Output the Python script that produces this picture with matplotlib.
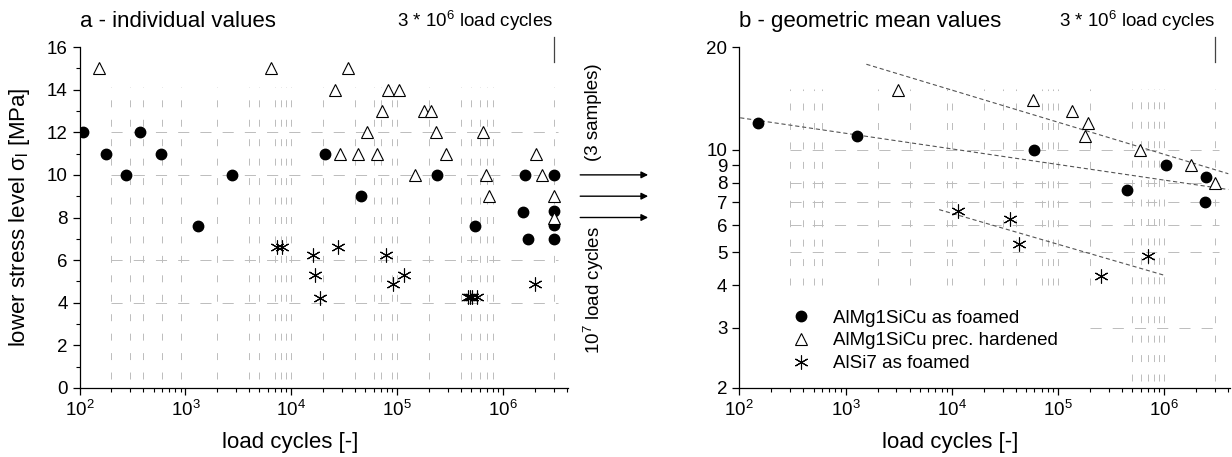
"""Fatigue data of Al foams: individual values (a) and geometric means (b)."""
import numpy as np
import matplotlib
matplotlib.use("Agg")
import matplotlib.pyplot as plt
from matplotlib.ticker import MultipleLocator, FixedLocator, NullLocator, FixedFormatter

plt.rcParams["font.family"] = ["Liberation Sans", "DejaVu Sans"]
plt.rcParams["mathtext.fontset"] = "custom"
plt.rcParams["mathtext.rm"] = "Liberation Sans"
plt.rcParams["mathtext.it"] = "Liberation Sans:italic"
plt.rcParams["lines.scale_dashes"] = False

# ---- panel a: individual values ----
foamed_a_n = [108, 178, 274, 376, 583, 1320, 2740, 21000, 45200, 240000, 543000,
              1.6e6, 1.54e6, 1.71e6, 3e6, 3e6, 3e6, 3e6]
foamed_a_s = [12, 11, 10, 12, 11, 7.62, 10, 11, 9, 10, 7.62,
              10, 8.27, 7.0, 10, 8.3, 7.63, 7.0]

hard_a_n = [152, 6370, 34000, 25900, 82600, 103000, 72600, 181000, 209000,
            51400, 230000, 640000, 28900, 42600, 64400, 288000, 2.06e6,
            146000, 686000, 2.32e6, 735000, 3e6, 3e6]
hard_a_s = [15, 15, 15, 14, 14, 14, 13, 13, 13,
            12, 12, 12, 11, 11, 11, 11, 11,
            10, 10, 10, 9, 9, 8]

alsi_a_n = [7310, 8100, 16100, 16800, 18500, 27900, 78300, 90800, 115000,
            470000, 490000, 510000, 570000, 2.0e6]
alsi_a_s = [6.6, 6.6, 6.22, 5.28, 4.2, 6.6, 6.22, 4.87, 5.28,
            4.27, 4.27, 4.27, 4.27, 4.87]

# ---- panel b: geometric mean values ----
foamed_b_n = [149, 1280, 59700, 442000, 1.04e6, 2.46e6, 2.4e6]
foamed_b_s = [12.0, 11.0, 10.0, 7.64, 9.0, 8.32, 7.0]
hard_b_n = [3120, 58600, 135000, 190000, 180000, 588000, 1.8e6, 3e6]
hard_b_s = [15, 14, 13, 12, 11, 10, 9, 8]
alsi_b_n = [11500, 35100, 43000, 253000, 703000]
alsi_b_s = [6.6, 6.25, 5.28, 4.27, 4.89]

# fitted lines in b (end points)
fit_foamed_n = [102, 4.0e6]
fit_foamed_s = [12.4, 7.64]
fit_hard_n = [1570, 4.0e6]
fit_hard_s = [17.8, 8.5]
fit_alsi_n = [7600, 1.03e6]
fit_alsi_s = [6.67, 4.27]

# background dashed grid positions
grid_x_a = [200, 300, 400, 600, 900, 2000, 4000, 5000, 7000, 8000, 9000, 1e4,
            2e4, 4e4, 6e4, 7e4, 9e4, 1e5, 2e5, 4e5, 5e5, 6e5, 7e5, 8e5, 3e6]
grid_y_a = [4, 6, 10, 12]
grid_x_b = [300, 400, 500, 600, 2000, 4000, 9000, 1e4, 2e4, 3e4, 4e4,
            7e4, 8e4, 9e4, 1e5, 2e5]
grid_x_b_long = [5e5, 6e5, 7e5, 8e5, 9e5, 1e6, 3e6]
grid_y_b = [5, 6, 7, 8, 10]

W, H = 1232, 457
fig = plt.figure(figsize=(W / 100, H / 100), dpi=100)
bot, top = 388, 47
axa = fig.add_axes([79.5 / W, (H - bot) / H, (568 - 79.5) / W, (bot - top) / H])
axb = fig.add_axes([739.3 / W, (H - bot) / H, (1230 - 739.3) / W, (bot - top) / H])

grid_kw = dict(color="#bcbcbc", lw=0.7, linestyles=(0, (5, 9)), zorder=0)
gridh_kw = dict(color="#bcbcbc", lw=0.7, linestyles=(0, (8, 8)), zorder=0)
circ_kw = dict(ls="none", marker="o", ms=7.5, mfc="black", mec="black", zorder=3)
tri_kw = dict(ls="none", marker="^", ms=8, mfc="white", mec="black", mew=0.8, zorder=3)
ast_kw = dict(ls="none", marker=(6, 2, 0), ms=10, mec="black", mew=0.8, zorder=3)

# ---- a ----
ax = axa
ax.vlines(grid_x_a, 0.4, 14.1, **grid_kw)
ax.hlines(grid_y_a, 200, 3.3e6, **gridh_kw)
ax.plot(foamed_a_n, foamed_a_s, **circ_kw)
ax.plot(hard_a_n, hard_a_s, **tri_kw)
ax.plot(alsi_a_n, alsi_a_s, **ast_kw)
ax.set_xscale("log")
ax.set_xlim(100, 4.1e6)
ax.set_ylim(0, 16)
ax.yaxis.set_major_locator(MultipleLocator(2))
ax.yaxis.set_minor_locator(MultipleLocator(1))
ax.set_ylabel(r"lower stress level σ$_\mathrm{l}$ [MPa]", fontsize=16)
ax.yaxis.set_label_coords(-0.097, 0.5)
ax.text(0, 1.076, "a - individual values", transform=ax.transAxes,
        fontsize=16, ha="left", va="center")

# run-outs at 3e6 and the 10^7 arrows
tr = ax.get_yaxis_transform()
for yv in [10, 9, 8]:
    ax.annotate("", xy=(1.164, yv), xytext=(1.025, yv), xycoords=tr, textcoords=tr,
                arrowprops=dict(arrowstyle="-|>", color="black", lw=1.0,
                                mutation_scale=10, shrinkA=0, shrinkB=0))
ax.text(1.053, 12.95, "(3 samples)", transform=tr, rotation=90,
        fontsize=13.5, ha="center", va="center")
ax.text(1.053, 4.6, r"10$^7$ load cycles", transform=tr, rotation=90,
        fontsize=13.5, ha="center", va="center")

# ---- b ----
ax = axb
ax.vlines(grid_x_b, 4.0, 15.1, **grid_kw)
ax.vlines(grid_x_b_long, 2.1, 15.1, **grid_kw)
ax.hlines(grid_y_b, 300, 3.3e6, **gridh_kw)
ax.hlines([3], 2e5, 3.3e6, **gridh_kw)
fit_kw = dict(color="#555555", lw=0.8, ls=(0, (3, 2)), zorder=2)
ax.plot(fit_foamed_n, fit_foamed_s, **fit_kw)
ax.plot(fit_hard_n, fit_hard_s, **fit_kw)
ax.plot(fit_alsi_n, fit_alsi_s, **fit_kw)
ax.plot(foamed_b_n, foamed_b_s, label="AlMg1SiCu as foamed", **circ_kw)
ax.plot(hard_b_n, hard_b_s, label="AlMg1SiCu prec. hardened", **tri_kw)
ax.plot(alsi_b_n, alsi_b_s, label="AlSi7 as foamed", **ast_kw)
ax.set_xscale("log")
ax.set_yscale("log")
ax.set_xlim(100, 4.15e6)
ax.set_ylim(2, 20)
yt = [2, 3, 4, 5, 6, 7, 8, 9, 10, 20]
ax.yaxis.set_major_locator(FixedLocator(yt))
ax.yaxis.set_major_formatter(FixedFormatter([str(v) for v in yt]))
ax.yaxis.set_minor_locator(NullLocator())
ax.text(0, 1.076, "b - geometric mean values", transform=ax.transAxes,
        fontsize=16, ha="left", va="center")
ax.legend(loc="upper left", bbox_to_anchor=(0.087, 0.252), frameon=False,
          fontsize=13.5, handletextpad=1.1, labelspacing=0.3, borderaxespad=0,
          handlelength=1.2)

for ax in (axa, axb):
    ax.spines["top"].set_visible(False)
    ax.spines["right"].set_visible(False)
    ax.spines["left"].set_linewidth(0.9)
    ax.spines["bottom"].set_linewidth(0.9)
    ax.tick_params(which="major", length=5, width=0.9, labelsize=13.5)
    ax.tick_params(which="minor", length=3, width=0.8)
    ax.set_xlabel("load cycles [-]", fontsize=16)
    ax.xaxis.set_label_coords(0.432 if ax is axa else 0.43, -0.128)
    # 3*10^6 load cycles marker above the plot
    tx = ax.get_xaxis_transform()
    ax.plot([3e6, 3e6], [1.03, 0.955], transform=tx, color="#444444", lw=0.9,
            clip_on=False)
    ax.text(3e6, 1.076, r"3 * 10$^6$ load cycles", transform=tx, fontsize=13.5,
            ha="right", va="center")

fig.savefig("out.png", dpi=100)
